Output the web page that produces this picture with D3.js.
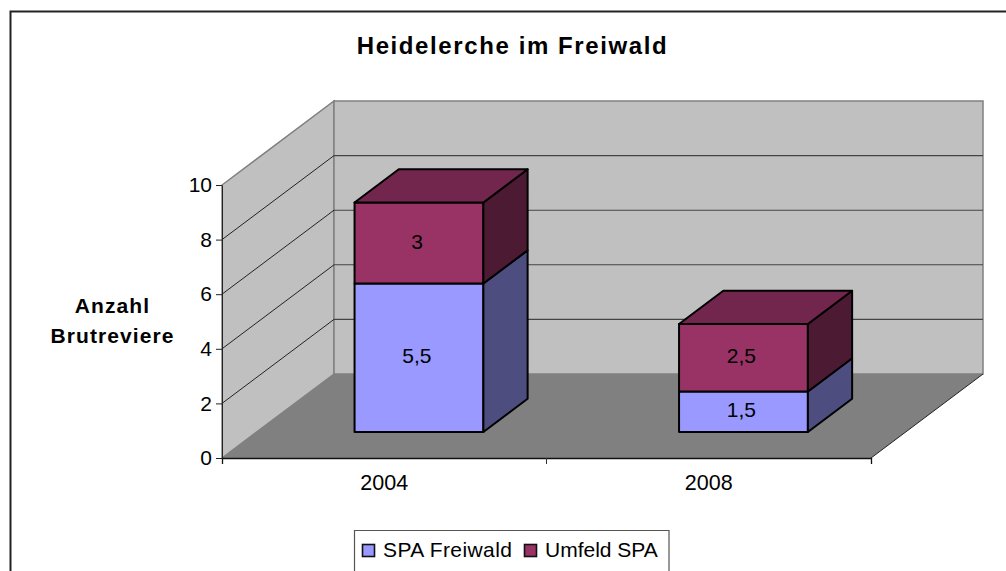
<!DOCTYPE html>
<html><head><meta charset="utf-8">
<script src="https://cdnjs.cloudflare.com/ajax/libs/d3/7.8.5/d3.min.js"></script>
<style>html,body{margin:0;padding:0;background:#fff;overflow:hidden}svg{display:block}text{font-family:"Liberation Sans",Arial,sans-serif;fill:#000}</style>
</head><body><svg id="c" width="1006" height="571"></svg>
<script>
const chartTitle = "Heidelerche im Freiwald";
const yAxisLines = ["Anzahl", "Brutreviere"];
const categories = ["2004", "2008"];
const seriesNames = ["SPA Freiwald", "Umfeld SPA"];
const spaFreiwald = [5.5, 1.5];
const umfeldSpa = [3, 2.5];
const valueLabels = [["5,5", "1,5"], ["3", "2,5"]];
const yTicks = [0, 2, 4, 6, 8, 10];
const seriesColors = ["#9999ff", "#993366"];
const sideColors = ["#4d4d80", "#4d1a33"];
const topColors = ["#73739f", "#73264d"];

const svg = d3.select("#c");
const FF = '"Liberation Sans",Arial,sans-serif';
const x = d3.scaleBand().domain(categories).range([222, 871]).paddingInner(0).paddingOuter(0);
const y = d3.scaleLinear().domain([0, 10]).range([458, 185]);
const depthX = d3.scaleLinear().domain([0, 1]).range([0, 112]);
const depthY = d3.scaleLinear().domain([0, 1]).range([0, -84]);
const dFront = 0.31, dBack = 0.705, barFrac = 0.397;
// bars sit further back in the box, so their value scale is slightly foreshortened
const yBar = d3.scaleLinear().domain([0, 10]).range([432, 162]);
const P = (px, val, d) => [px + depthX(d), y(val) + depthY(d)];
const B = (px, val, d) => [px + depthX(d), yBar(val) + depthY(d - dFront)];
const poly = pts => "M" + pts.map(p => p.join(",")).join("L") + "Z";

svg.append("path").attr("d", "M10.5,571V11.5H1006").attr("fill", "none").attr("stroke", "#222").attr("stroke-width", 2);

const x0 = x.range()[0], x1 = x.range()[1];
svg.append("path").attr("d", poly([P(x0,0,0), P(x0,10,0), P(x0,10,1), P(x0,0,1)])).attr("fill", "#c0c0c0").attr("stroke", "#808080").attr("stroke-width", 1.5);
svg.append("path").attr("d", poly([P(x0,0,1), P(x0,10,1), P(x1,10,1), P(x1,0,1)])).attr("fill", "#c0c0c0").attr("stroke", "#808080").attr("stroke-width", 1.5);
svg.append("path").attr("d", poly([P(x0,0,0), P(x0,0,1), P(x1,0,1), P(x1,0,0)])).attr("fill", "#808080");
svg.append("path").attr("d", "M" + P(x1,0,1).join(",") + "L" + P(x1,0,0).join(",")).attr("stroke", "#222").attr("fill", "none");
yTicks.filter(t => t > 0 && t < 10).forEach(t => {
  svg.append("path").attr("fill", "none").attr("stroke", "#111").attr("stroke-width", 0.9)
    .attr("d", "M" + [P(x0,t,0), P(x0,t,1)].map(p=>p.join(",")).join("L"));
  svg.append("path").attr("fill", "none").attr("stroke", "#444").attr("stroke-width", 1.1)
    .attr("d", "M" + [P(x0,t,1), P(x1,t,1)].map(p=>p.join(",")).join("L"));
});
const gy = svg.append("g").attr("transform", `translate(${x0},0)`)
  .call(d3.axisLeft(y).tickValues(yTicks).tickSize(6).tickPadding(4).tickSizeOuter(0));
gy.selectAll("path,line").attr("stroke", "#222");
gy.selectAll("text").attr("font-size", 21).style("font-family", FF);
const gx = svg.append("g").attr("transform", "translate(0,458)")
  .call(d3.axisBottom(x).tickSize(0).tickSizeOuter(6).tickPadding(17));
gx.selectAll("path").attr("stroke", "#111").attr("stroke-width", 1.3);
gx.selectAll("text").attr("font-size", 21.5).style("font-family", FF);
svg.append("path").attr("stroke", "#333").attr("d", `M${x(categories[1])},458v6`);

const barW = x.bandwidth() * barFrac;
categories.forEach((cat, i) => {
  const left = x(cat) + (x.bandwidth() - barW) / 2, right = left + barW;
  let base = 0;
  [spaFreiwald, umfeldSpa].forEach((vals, s) => {
    const top = base + vals[i];
    const g = svg.append("g").attr("stroke", "#000").attr("stroke-width", 2).attr("stroke-linejoin", "round");
    g.append("path").attr("fill", seriesColors[s]).attr("d", poly([B(left,base,dFront), B(left,top,dFront), B(right,top,dFront), B(right,base,dFront)]));
    g.append("path").attr("fill", sideColors[s]).attr("d", poly([B(right,base,dFront), B(right,top,dFront), B(right,top,dBack), B(right,base,dBack)]));
    if (s === 1) g.append("path").attr("fill", topColors[s]).attr("d", poly([B(left,top,dFront), B(left,top,dBack), B(right,top,dBack), B(right,top,dFront)]));
    const c = B((left + right) / 2, (base + top) / 2, dFront);
    svg.append("text").attr("x", c[0] - 2).attr("y", c[1] + 5.5).attr("text-anchor", "middle").attr("font-size", 21).text(valueLabels[s][i]);
    base = top;
  });
});

svg.append("text").attr("x", 512.5).attr("y", 53.5).attr("text-anchor", "middle").attr("font-size", 24).attr("font-weight", "bold").attr("letter-spacing", 1.6).text(chartTitle);
yAxisLines.forEach((t, i) => svg.append("text").attr("x", 112.5).attr("y", 313 + i * 30).attr("text-anchor", "middle").attr("font-size", 21).attr("font-weight", "bold").attr("letter-spacing", 1.1).text(t));

svg.append("path").attr("d", "M354.5,571V530.5H669V571").attr("fill", "#fff").attr("stroke", "#555").attr("stroke-width", 1.2);
const legendX = [362.5, 524.5], legendTextX = [383, 545];
seriesNames.forEach((n, i) => {
  svg.append("rect").attr("x", legendX[i]).attr("y", 544.5).attr("width", 12).attr("height", 12).attr("fill", seriesColors[i]).attr("stroke", "#111").attr("stroke-width", 1.6);
  svg.append("text").attr("x", legendTextX[i]).attr("y", 557).attr("font-size", 21).attr("letter-spacing", i === 0 ? 0.4 : 0).text(n);
});
</script></body></html>
